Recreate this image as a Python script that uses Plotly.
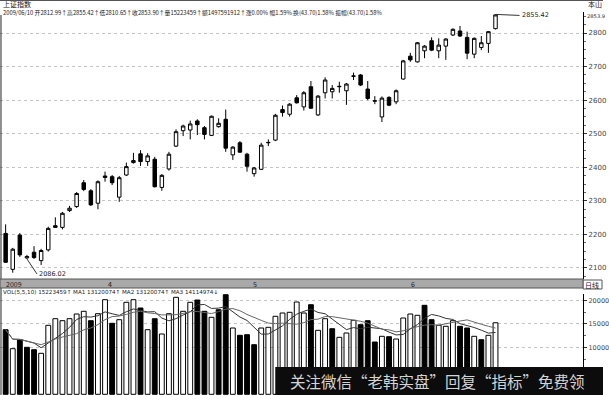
import plotly.graph_objects as go
import pandas as pd

# ---------------- data ----------------
open_ = [2203, 2096, 2198, 2130, 2147, 2122, 2154, 2226, 2221, 2271,
         2283, 2354, 2330, 2293, 2374, 2372, 2311, 2377, 2414, 2440,
         2417, 2424, 2340, 2395, 2463, 2509, 2511, 2538, 2518, 2495,
         2521, 2543, 2437, 2473, 2439, 2381, 2394, 2473, 2481, 2572,
         2558, 2607, 2580, 2640, 2556, 2622, 2625, 2640, 2628, 2671,
         2675, 2633, 2597, 2550, 2608, 2595, 2663, 2731, 2714, 2747,
         2777, 2747, 2761, 2794, 2806, 2787, 2737, 2757, 2769, 2812.99]
high = [2230, 2160, 2204, 2139, 2165, 2157, 2223, 2251, 2267, 2285,
        2326, 2362, 2335, 2361, 2387, 2377, 2374, 2414, 2443, 2451,
        2442, 2431, 2380, 2446, 2513, 2527, 2539, 2543, 2523, 2554,
        2546, 2572, 2463, 2478, 2443, 2401, 2473, 2483, 2559, 2584,
        2591, 2615, 2627, 2657, 2615, 2668, 2645, 2655, 2651, 2682,
        2678, 2657, 2612, 2611, 2612, 2632, 2720, 2741, 2773, 2764,
        2787, 2784, 2785, 2814, 2821, 2804, 2787, 2791, 2806, 2855.42]
low = [2115, 2086.02, 2133, 2127, 2127, 2109, 2149, 2219, 2215, 2267,
       2279, 2329, 2285, 2275, 2357, 2347, 2297, 2374, 2411, 2404,
       2404, 2340, 2330, 2390, 2460, 2493, 2483, 2496, 2483, 2493,
       2518, 2446, 2422, 2443, 2387, 2372, 2392, 2463, 2478, 2551,
       2551, 2590, 2569, 2574, 2553, 2605, 2605, 2622, 2586, 2660,
       2642, 2600, 2588, 2535, 2582, 2588, 2661, 2714, 2712, 2725,
       2746, 2725, 2720, 2791, 2788, 2722, 2725, 2749, 2741, 2810.65]
close = [2117, 2156, 2139, 2134, 2131, 2152, 2218, 2221, 2263, 2278,
         2322, 2334, 2288, 2357, 2370, 2354, 2369, 2402, 2420, 2417,
         2434, 2342, 2376, 2439, 2506, 2523, 2529, 2527, 2498, 2552,
         2531, 2457, 2460, 2445, 2403, 2398, 2466, 2474, 2555, 2563,
         2588, 2592, 2622, 2576, 2612, 2660, 2635, 2641, 2648, 2672,
         2645, 2605, 2598, 2606, 2585, 2628, 2717, 2720, 2771, 2761,
         2749, 2764, 2782, 2811, 2791, 2740, 2784, 2771, 2804, 2853.90]
volume = [13747, 9704, 11619, 10002, 9491, 8725, 14683, 16088, 15662, 16088,
          17088, 17662, 15662, 17152, 20131, 15109, 15875, 19578, 20131, 18365,
          13747, 16088, 12832, 17152, 20642, 17662, 19578, 20067, 17662, 16386,
          18003, 21195, 14109, 12555, 12683, 10555, 14109, 14258, 16598, 17301,
          17450, 19641, 17301, 19067, 13619, 16088, 13960, 12130, 13045, 15747,
          14811, 15662, 11129, 12342, 12257, 11768, 16237, 17088, 16811, 18939,
          15875, 14683, 14470, 15662, 14470, 14109, 12342, 11619, 12555, 15223]

price_ticks = [2100, 2200, 2300, 2400, 2500, 2600, 2700, 2800]
vol_ticks = [10000, 15000, 20000]
month_labels = ["2009", "4", "5", "6"]
month_pos = [-0.3, 14.1, 34.5, 56.8]

header1 = "上证指数"
header2 = ("2009/06/10 开2812.99↑高2855.42↑低2810.65↑收2853.90↑量15223459↑额1497591912↑"
           "涨0.00% 幅1.59% 换(43.70)1.58% 振幅(43.70)1.58%")
vol_header = "VOL(5,5,10) 15223459↑ MA1 13120074↑ MA2 13120074↑ MA3 14114974↓"
watermark = "关注微信“老韩实盘”回复“指标”免费领"

# ---------------- figure ----------------
W, H = 609, 395
idx = list(range(len(close)))
ma5 = pd.Series(volume).rolling(5, min_periods=1).mean()
ma10 = pd.Series(volume).rolling(10, min_periods=1).mean()
vol_colors = ["white" if (i == 0 and close[0] >= open_[0]) or (i > 0 and close[i] >= close[i - 1]) else "black"
              for i in idx]

def py(p):  # pixel -> paper y
    return 1 - p / H

def px(p):
    return p / W

fig = go.Figure()
fig.add_trace(go.Candlestick(
    x=idx, open=open_, high=high, low=low, close=close,
    increasing=dict(line=dict(color="black", width=1), fillcolor="white"),
    decreasing=dict(line=dict(color="black", width=1), fillcolor="black"),
    whiskerwidth=0, xaxis="x", yaxis="y", showlegend=False, hoverinfo="skip"))
fig.add_trace(go.Bar(
    x=idx, y=volume, width=0.68, xaxis="x2", yaxis="y2",
    marker=dict(color=vol_colors, line=dict(color="black", width=1)),
    showlegend=False, hoverinfo="skip"))
fig.add_trace(go.Scatter(x=idx, y=ma5, mode="lines", line=dict(color="#333", width=1),
                         xaxis="x2", yaxis="y2", showlegend=False, hoverinfo="skip"))
fig.add_trace(go.Scatter(x=idx, y=ma10, mode="lines", line=dict(color="#666", width=1),
                         xaxis="x2", yaxis="y2", showlegend=False, hoverinfo="skip"))

xdom = [0, px(589)]
xr = [-0.795, 81.35]
tickfont = dict(family="DejaVu Sans", size=7, color="#444")

fig.update_layout(
    width=W, height=H, margin=dict(l=0, r=0, t=0, b=0),
    paper_bgcolor="white", plot_bgcolor="white",
    xaxis=dict(domain=xdom, range=xr, anchor="y", showgrid=False, zeroline=False,
               showticklabels=False, ticks="", rangeslider=dict(visible=False), fixedrange=True),
    xaxis2=dict(domain=xdom, range=xr, anchor="y2", showgrid=False, zeroline=False,
                showticklabels=False, ticks=""),
    yaxis=dict(domain=[py(279), py(12)], range=[2067.2, 2862.6], side="right", anchor="x",
               tickvals=price_ticks, ticks="outside", ticklen=3, tickcolor="#333",
               showline=True, linecolor="black", linewidth=1,
               showgrid=True, gridcolor="#c4c4c4", griddash="dot", gridwidth=1,
               zeroline=False, tickfont=tickfont,
               minor=dict(ticks="outside", ticklen=2, dtick=25, tickcolor="#666", showgrid=False)),
    yaxis2=dict(domain=[0, py(294)], range=[-149, 21344], side="right", anchor="x2",
                tickvals=vol_ticks, ticktext=[str(v) for v in vol_ticks],
                ticks="outside", ticklen=3, tickcolor="#333",
                showline=True, linecolor="black", linewidth=1,
                showgrid=True, gridcolor="#c4c4c4", griddash="dot", gridwidth=1,
                zeroline=False, tickfont=dict(family="DejaVu Sans", size=6.5, color="#444"),
                minor=dict(ticks="outside", ticklen=2, dtick=2500, tickcolor="#666", showgrid=False)),
    bargap=0.3,
)

shapes = []
# left border
shapes.append(dict(type="line", xref="paper", yref="paper", x0=px(1), x1=px(1), y0=0, y1=py(15),
                   line=dict(color="#222", width=1)))
# top scan line
shapes.append(dict(type="line", xref="paper", yref="paper", x0=0, x1=1, y0=py(0.5), y1=py(0.5),
                   line=dict(color="#555", width=1)))
# separator bar
shapes.append(dict(type="rect", xref="paper", yref="paper", x0=0, x1=px(589), y0=py(288), y1=py(279),
                   fillcolor="#a9a9a9", line=dict(color="#555", width=1)))
shapes.append(dict(type="rect", xref="paper", yref="paper", x0=px(589), x1=px(608), y0=py(289), y1=py(280),
                   fillcolor="white", line=dict(color="#555", width=1)))
# watermark box
shapes.append(dict(type="rect", xref="paper", yref="paper", x0=px(278), x1=1, y0=0, y1=py(367),
                   fillcolor="#0c0c0c", line=dict(width=0), layer="above"))
fig.update_layout(shapes=shapes)

cjk = "Noto Sans CJK SC"
ann = []
ann.append(dict(xref="paper", yref="paper", x=px(1), y=py(4), text=header1, showarrow=False,
                xanchor="left", yanchor="middle", font=dict(family=cjk, size=7, color="#111")))
ann.append(dict(xref="paper", yref="paper", x=px(1), y=py(12), text=header2, showarrow=False,
                xanchor="left", yanchor="middle", font=dict(family=cjk, size=5.8, color="#222")))
ann.append(dict(xref="paper", yref="paper", x=px(1), y=py(291.5), text=vol_header, showarrow=False,
                xanchor="left", yanchor="middle", font=dict(family="DejaVu Sans", size=5.6, color="#222")))
ann.append(dict(xref="paper", yref="paper", x=px(598), y=py(284.5), text="日线", showarrow=False,
                xanchor="center", yanchor="middle", font=dict(family=cjk, size=7, color="#222")))
ann.append(dict(xref="paper", yref="paper", x=px(592), y=py(4), text="本山", showarrow=False,
                xanchor="left", yanchor="middle", font=dict(family=cjk, size=7, color="#222")))
ann.append(dict(xref="paper", yref="paper", x=px(591), y=py(16), text=f"{close[-1]:.1f}", showarrow=False,
                xanchor="left", yanchor="middle", font=dict(family="DejaVu Sans", size=5.2, color="#333")))
for lab, pos in zip(month_labels, month_pos):
    ann.append(dict(xref="x", yref="paper", x=pos, y=py(283.5), text=lab, showarrow=False,
                    xanchor="left", yanchor="middle", font=dict(family=cjk, size=7, color="#222")))
# max / min markers
imax = high.index(max(high))
imin_mark = 3
ann.append(dict(xref="x", yref="y", x=imax, y=max(high), text=f"{max(high):.2f}", showarrow=True,
                arrowhead=0, arrowwidth=1, arrowcolor="#333", ax=24, ay=1, xanchor="left",
                font=dict(family="DejaVu Sans", size=6.5, color="#222")))
ann.append(dict(xref="x", yref="y", x=imin_mark, y=low[imin_mark], text=f"{min(low):.2f}", showarrow=True,
                arrowhead=0, arrowwidth=1, arrowcolor="#333", ax=10, ay=15, xanchor="left",
                font=dict(family="DejaVu Sans", size=6.5, color="#222")))
ann.append(dict(xref="paper", yref="paper", x=px(442), y=py(381), text=watermark, showarrow=False,
                xanchor="center", yanchor="middle", font=dict(family=cjk, size=15.5, color="#d4d4d4")))
fig.update_layout(annotations=ann)

fig.write_html("out.html")
